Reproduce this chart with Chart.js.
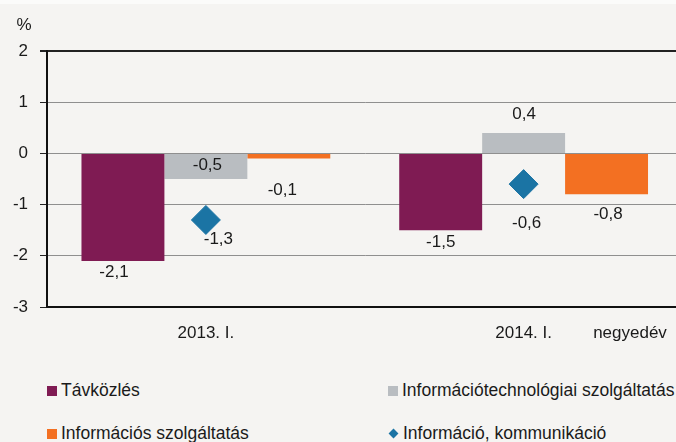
<!DOCTYPE html>
<html>
<head>
<meta charset="utf-8">
<script src="https://cdn.jsdelivr.net/npm/chart.js@4"></script>
<style>
  html, body { margin: 0; padding: 0; background: #f5f4f2; overflow: hidden; }
  #wrap { position: relative; width: 676px; height: 442px; overflow: hidden; background: #f5f4f2; }
  #topstrip { position: absolute; left: 0; top: 0; width: 676px; height: 4px; background: #fbfbfa; }
  #chart { position: absolute; left: 0; top: 0; }
  .leg { position: absolute; font: 17.5px "Liberation Sans", Arial, sans-serif; color: #1a1a1a; white-space: nowrap; line-height: 20px; }
  .leg i { display: inline-block; width: 10px; height: 10px; margin-right: 4px; vertical-align: 0px; }
  .leg i.dia { width: 7px; height: 7px; transform: rotate(45deg); margin: 0 6px 0 2px; vertical-align: 2px; }
</style>
</head>
<body>
<div id="wrap">
  <div id="topstrip"></div>
  <canvas id="chart" width="700" height="352"></canvas>
  <div id="legend"></div>
</div>
<script>
    // adatok
    const categories = ['2013. I.', '2014. I.'];
    const tavkozles = [-2.1, -1.5];
    const infotech = [-0.5, 0.4];
    const infoSzolg = [-0.1, -0.8];
    const infoKomm = [-1.3, -0.6];
    const seriesNames = ['Távközlés', 'Információtechnológiai szolgáltatás', 'Információs szolgáltatás', 'Információ, kommunikáció'];
    const yTicks = [2, 1, 0, -1, -2, -3];

    const colors = ['#7f1b53', '#b9bdc1', '#f37022', '#1b74a4'];

    // címkék eltolása (px) a pont/oszlopvég körül
    const labelOffsets = [
        [[-9, 11], [0, 12]],
        [[1.5, -13.5], [0.5, -18.5]],
        [[-6.5, 32], [1.5, 20]],
        [[12.5, 19.5], [3, 39.5]]
    ];

    const fmt = v => String(v).replace('.', ',');

    const labelPlugin = {
        id: 'valueLabels',
        afterDatasetsDraw(chart) {
            const ctx = chart.ctx;
            ctx.save();
            ctx.font = '17px "Liberation Sans", Arial, sans-serif';
            ctx.fillStyle = '#1a1a1a';
            ctx.textAlign = 'center';
            ctx.textBaseline = 'middle';
            chart.data.datasets.forEach((ds, di) => {
                const meta = chart.getDatasetMeta(di);
                meta.data.forEach((el, i) => {
                    const off = labelOffsets[di][i];
                    ctx.fillText(fmt(ds.data[i]), el.x + off[0], el.y + off[1]);
                });
            });
            // mértékegység és tengelycím
            ctx.fillText('%', 24, 25);
            ctx.fillText('negyedév', 630, 333);
            ctx.restore();
        }
    };

    new Chart(document.getElementById('chart'), {
        data: {
            labels: categories,
            datasets: [
                { type: 'bar', label: seriesNames[0], data: tavkozles, backgroundColor: colors[0], order: 1 },
                { type: 'bar', label: seriesNames[1], data: infotech, backgroundColor: colors[1], order: 1 },
                { type: 'bar', label: seriesNames[2], data: infoSzolg, backgroundColor: colors[2], order: 1 },
                {
                    type: 'line', label: seriesNames[3], data: infoKomm, showLine: false,
                    pointStyle: 'rectRot', pointRadius: 14.5, pointHoverRadius: 14.5,
                    backgroundColor: colors[3], borderColor: colors[3], borderWidth: 1, order: 0
                }
            ]
        },
        options: {
            responsive: false,
            animation: false,
            devicePixelRatio: 1,
            layout: { padding: { top: 51, right: 17.5, left: 0, bottom: 0 } },
            datasets: { bar: { barPercentage: 1, categoryPercentage: 0.783 } },
            plugins: { legend: { display: false }, tooltip: { enabled: false } },
            scales: {
                x: {
                    grid: { display: false, drawTicks: false },
                    border: { display: true, color: '#111', width: 2 },
                    ticks: { color: '#1a1a1a', font: { size: 17, family: '"Liberation Sans", Arial, sans-serif' }, padding: 16 },
                    afterFit: s => { s.height = 45; }
                },
                y: {
                    min: -3, max: 2,
                    afterBuildTicks: s => { s.ticks = yTicks.map(v => ({ value: v })); },
                    grid: {
                        color: c => (c.tick && c.tick.value === 2) ? '#222' : '#8f8f8f',
                        lineWidth: c => (c.tick && c.tick.value === 2) ? 2 : 1,
                        tickColor: '#222', tickLength: 7, drawTicks: true
                    },
                    border: { display: true, color: '#111', width: 2 },
                    ticks: { color: '#1a1a1a', font: { size: 17, family: '"Liberation Sans", Arial, sans-serif' }, padding: 12, callback: v => String(v) },
                    afterFit: s => { s.width = 47; }
                }
            }
        },
        plugins: [labelPlugin]
    });

    // jelmagyarázat
    const legendPos = [[47, 380], [388, 380], [47, 423], [388, 423]];
    const legend = document.getElementById('legend');
    seriesNames.forEach((name, i) => {
        const d = document.createElement('div');
        d.className = 'leg';
        d.style.left = legendPos[i][0] + 'px';
        d.style.top = legendPos[i][1] + 'px';
        const m = document.createElement('i');
        if (i === 3) m.className = 'dia';
        m.style.background = colors[i];
        d.appendChild(m);
        d.appendChild(document.createTextNode(name));
        legend.appendChild(d);
    });
</script>
</body>
</html>
